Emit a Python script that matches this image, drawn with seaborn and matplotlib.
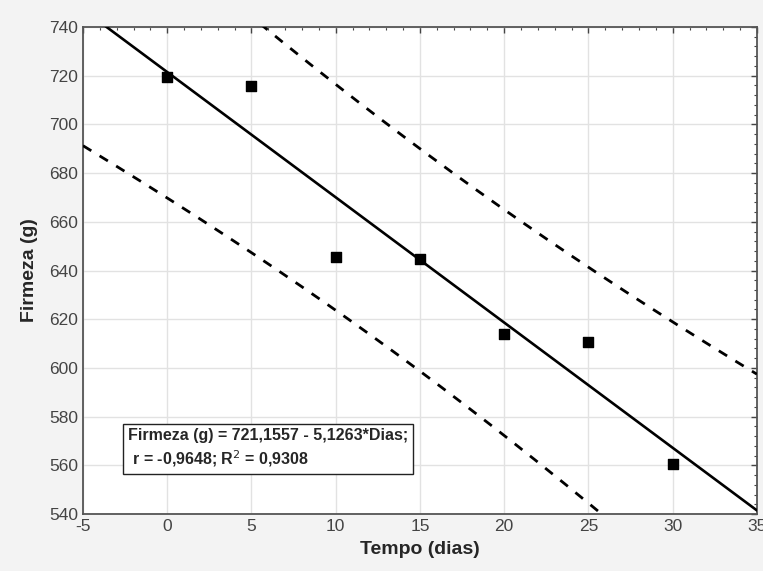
import numpy as np
import pandas as pd
import matplotlib
matplotlib.use("Agg")
import matplotlib.pyplot as plt
from matplotlib.ticker import MultipleLocator, AutoMinorLocator
import seaborn as sns

# dados
dias = [0, 5, 10, 15, 20, 25, 30]
firmeza = [719.5, 715.9, 645.7, 644.6, 613.8, 610.5, 560.4]
texto_eq = "Firmeza (g) = 721,1557 - 5,1263*Dias;\n r = -0,9648; R$^2$ = 0,9308"

df = pd.DataFrame({"dias": dias, "firmeza": firmeza})

sns.set_style("white")
plt.rcParams["font.family"] = ["Liberation Sans", "DejaVu Sans"]
plt.rcParams["axes.unicode_minus"] = False

fig = plt.figure(figsize=(7.63, 5.71), dpi=100, facecolor="#f3f3f3")
ax = fig.add_axes([0.1088, 0.0998, 0.8832, 0.8529])
ax.set_facecolor("white")
ax.set_xlim(-5, 35)
ax.set_ylim(540, 740)

# reta de regressão + pontos
sns.regplot(
    data=df, x="dias", y="firmeza", ax=ax,
    ci=None, truncate=False, marker="s", color="black",
    scatter_kws={"s": 45, "alpha": 1, "edgecolor": "black", "zorder": 4},
    line_kws={"color": "black", "lw": 1.9, "zorder": 3},
)

# intervalo de predição 95%
x = df["dias"].to_numpy(float)
y = df["firmeza"].to_numpy(float)
n = len(x)
b, a = np.polyfit(x, y, 1)
resid = y - (a + b * x)
s = np.sqrt((resid ** 2).sum() / (n - 2))
t = 2.5706
xx = np.linspace(-5, 35, 200)
half = t * s * np.sqrt(1 + 1 / n + (xx - x.mean()) ** 2 / ((x - x.mean()) ** 2).sum())
band = pd.DataFrame({"x": xx, "low": a + b * xx - half, "up": a + b * xx + half})
for col in ["low", "up"]:
    sns.lineplot(data=band, x="x", y=col, ax=ax, color="black", lw=2,
                 linestyle=(0, (3.5, 3.5)), zorder=3)

ax.set_xlim(-5, 35)
ax.set_ylim(540, 740)

# eixos
ax.xaxis.set_major_locator(MultipleLocator(5))
ax.yaxis.set_major_locator(MultipleLocator(20))
ax.xaxis.set_minor_locator(AutoMinorLocator(5))
ax.yaxis.set_minor_locator(AutoMinorLocator(5))
ax.tick_params(which="both", direction="in", top=True, right=True,
               color="#444444", labelcolor="#444444", labelsize=12.5)
ax.tick_params(which="major", length=4, width=1)
ax.tick_params(which="minor", length=2.5, width=0.8)
ax.grid(True, which="major", color="#e2e2e2", lw=1)
for sp in ax.spines.values():
    sp.set_color("#555555")
    sp.set_linewidth(1.3)

ax.set_xlabel("Tempo (dias)", fontsize=14, fontweight="bold", labelpad=5)
ax.set_ylabel("Firmeza (g)", fontsize=14, fontweight="bold", labelpad=8)

ax.text(-2.35, 567, texto_eq, fontsize=11.5, fontweight="bold", va="center",
        ha="left", linespacing=1.35, zorder=5,
        bbox=dict(boxstyle="square,pad=0.3", facecolor="white",
                  edgecolor="#222222", lw=1))

fig.savefig("out.png", dpi=100, facecolor=fig.get_facecolor())
